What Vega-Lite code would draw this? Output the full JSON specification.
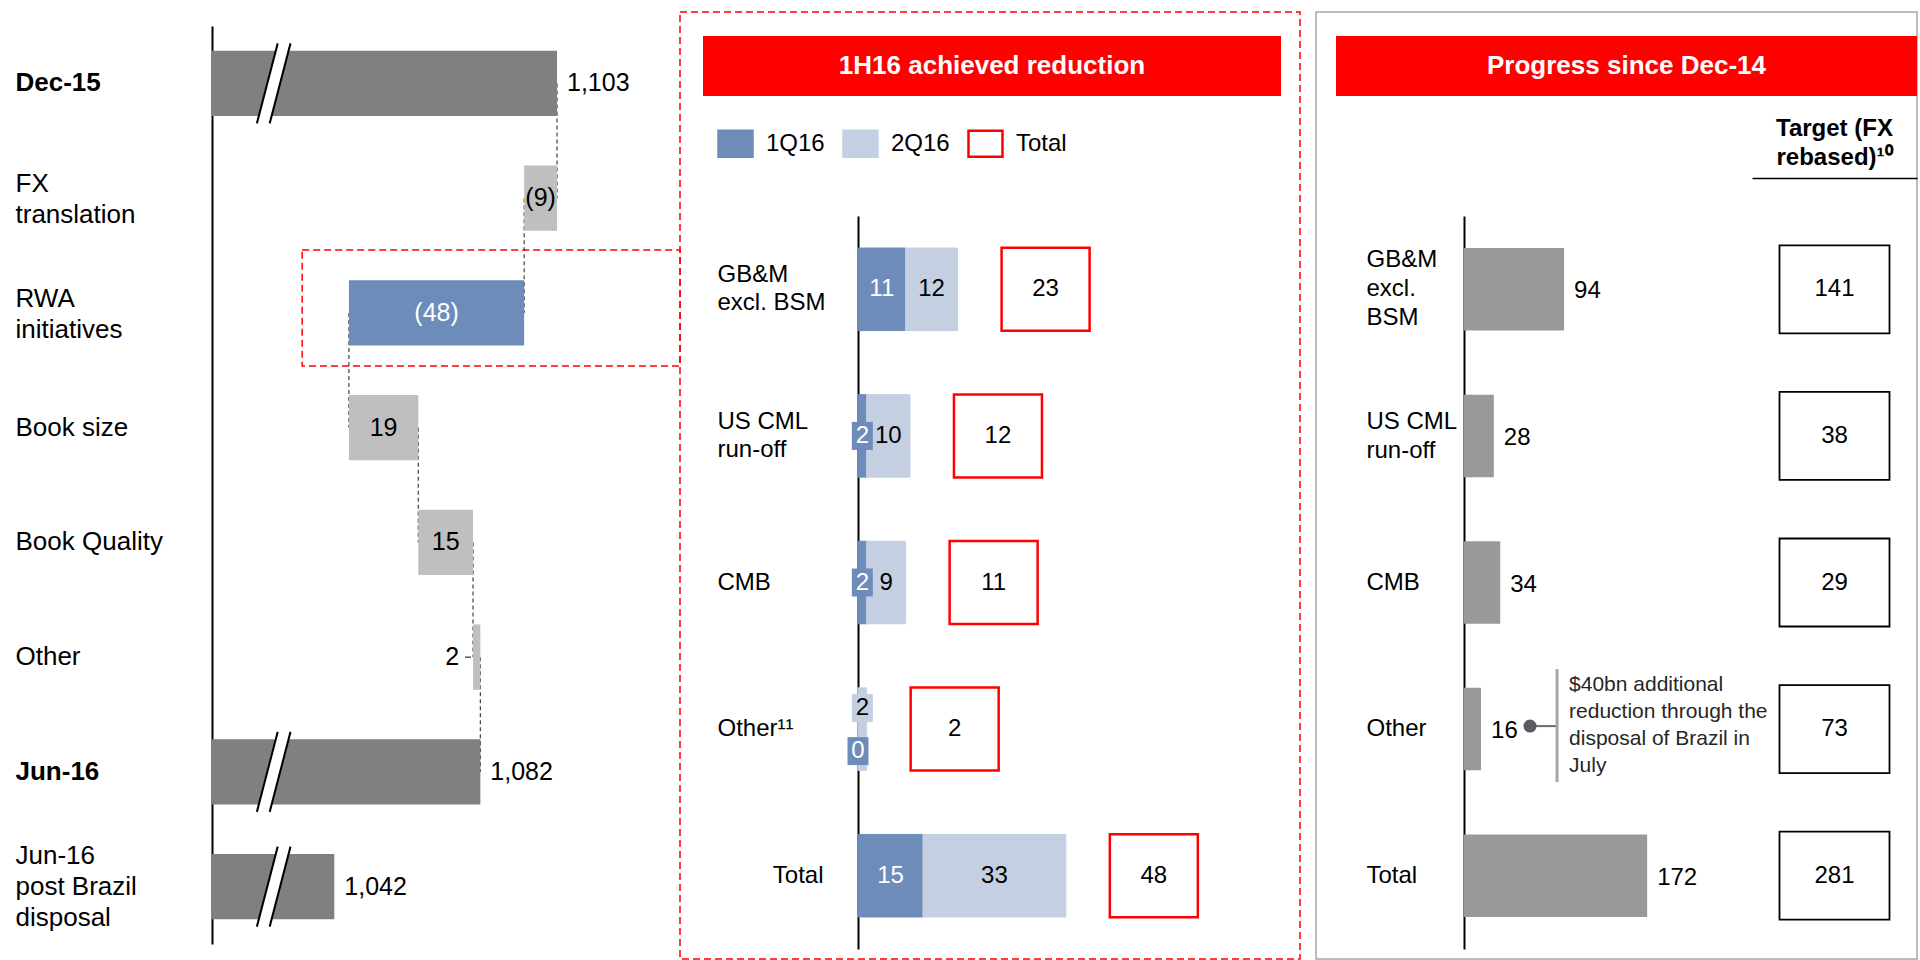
{
  "$schema": "https://vega.github.io/schema/vega-lite/v6.json",
  "background": "white",
  "padding": {"top": 11, "left": 0, "right": 0, "bottom": 0},
  "bounds": "flush",
  "spacing": 16,
  "config": {"font": "Liberation Sans", "view": {"stroke": null}},
  "resolve": {"scale": {"fill": "independent", "stroke": "independent"}, "legend": {"fill": "independent", "stroke": "independent"}},
  "datasets": {
    "wf_totals": [
      {"step": "Dec-15", "value": 1103},
      {"step": "Jun-16", "value": 1082},
      {"step": "Jun-16\npost Brazil\ndisposal", "value": 1042}
    ],
    "wf_changes": [
      {"step": "FX\ntranslation", "start": 1103, "end": 1094, "change": -9},
      {"step": "RWA\ninitiatives", "start": 1094, "end": 1046, "change": -48},
      {"step": "Book size", "start": 1046, "end": 1065, "change": 19},
      {"step": "Book Quality", "start": 1065, "end": 1080, "change": 15},
      {"step": "Other", "start": 1080, "end": 1082, "change": 2}
    ],
    "wf_links": [
      {"step": "Dec-15", "next": "FX\ntranslation", "level": 1103},
      {"step": "FX\ntranslation", "next": "RWA\ninitiatives", "level": 1094},
      {"step": "RWA\ninitiatives", "next": "Book size", "level": 1046},
      {"step": "Book size", "next": "Book Quality", "level": 1065},
      {"step": "Book Quality", "next": "Other", "level": 1080},
      {"step": "Other", "next": "Jun-16", "level": 1082}
    ],
    "quarters": [
      {"segment": "GB&M\nexcl. BSM", "series": "1Q16", "value": 11},
      {"segment": "GB&M\nexcl. BSM", "series": "2Q16", "value": 12},
      {"segment": "US CML\nrun-off", "series": "1Q16", "value": 2},
      {"segment": "US CML\nrun-off", "series": "2Q16", "value": 10},
      {"segment": "CMB", "series": "1Q16", "value": 2},
      {"segment": "CMB", "series": "2Q16", "value": 9},
      {"segment": "Other¹¹", "series": "1Q16", "value": 0},
      {"segment": "Other¹¹", "series": "2Q16", "value": 2},
      {"segment": "Total", "series": "1Q16", "value": 15},
      {"segment": "Total", "series": "2Q16", "value": 33}
    ],
    "totals_1h": [
      {"segment": "GB&M\nexcl. BSM", "series": "Total", "value": 23},
      {"segment": "US CML\nrun-off", "series": "Total", "value": 12},
      {"segment": "CMB", "series": "Total", "value": 11},
      {"segment": "Other¹¹", "series": "Total", "value": 2},
      {"segment": "Total", "series": "Total", "value": 48}
    ],
    "progress": [
      {"segment": "GB&M\nexcl.\nBSM", "value": 94},
      {"segment": "US CML\nrun-off", "value": 28},
      {"segment": "CMB", "value": 34},
      {"segment": "Other", "value": 16},
      {"segment": "Total", "value": 172}
    ],
    "targets": [
      {"segment": "GB&M\nexcl.\nBSM", "target": 141},
      {"segment": "US CML\nrun-off", "target": 38},
      {"segment": "CMB", "target": 29},
      {"segment": "Other", "target": 73},
      {"segment": "Total", "target": 281}
    ]
  },
  "hconcat": [
    {
      "width": 664,
      "height": 947,
      "encoding": {
        "y": {
          "field": "step", "type": "nominal", "sort": null,
          "scale": {"type": "band", "domain": ["Dec-15", "FX\ntranslation", "RWA\ninitiatives", "Book size", "Book Quality", "Other", "Jun-16", "Jun-16\npost Brazil\ndisposal"], "range": [14, 932], "paddingInner": 0.43, "paddingOuter": 0.215},
          "axis": {
            "orient": "left", "offset": -212, "title": null,
            "domain": true, "domainColor": "black", "domainWidth": 2,
            "ticks": false, "tickSize": 0,
            "labelAlign": "left", "labelBaseline": "middle", "labelPadding": 197,
            "labelFontSize": 26, "labelLineHeight": 31, "labelColor": "black", "labelLimit": 0,
            "labelExpr": "split(datum.label, '\\n')",
            "labelOffset": {"condition": [{"test": "length(split(datum.value, '\\n')) == 3", "value": -31}, {"test": "length(split(datum.value, '\\n')) == 2", "value": -14}], "value": 0},
            "labelFontWeight": {"condition": {"test": "datum.value === 'Dec-15' || datum.value === 'Jun-16'", "value": "bold"}, "value": "normal"}
          }
        }
      },
      "layer": [
        {
          "data": {"name": "wf_links"},
          "mark": {"type": "rule", "color": "#404040", "strokeWidth": 1.2, "strokeDash": [4, 3]},
          "encoding": {
            "x": {"field": "level", "type": "quantitative", "scale": {"domain": [1008.5, 1132.3], "range": [212, 664], "zero": false, "nice": false}, "axis": null},
            "y2": {"field": "next"}
          }
        },
        {
          "data": {"name": "wf_changes"},
          "transform": [{"filter": "datum.step === 'RWA\\ninitiatives'"}],
          "mark": {"type": "bar", "size": 116, "yOffset": -5, "fill": "transparent", "stroke": "#ff0000", "strokeWidth": 1.5, "strokeDash": [7, 4]},
          "encoding": {
            "x": {"datum": 1033.2, "type": "quantitative", "axis": null},
            "x2": {"datum": 1136.7}
          }
        },
        {
          "data": {"name": "wf_totals"},
          "mark": {"type": "bar", "color": "#808080"},
          "encoding": {
            "x": {"field": "value", "type": "quantitative", "axis": null},
            "x2": {"datum": 1008.5}
          }
        },
        {
          "data": {"name": "wf_changes"},
          "mark": {"type": "bar"},
          "encoding": {
            "x": {"field": "start", "type": "quantitative", "axis": null},
            "x2": {"field": "end"},
            "color": {"condition": {"test": "datum.step === 'RWA\\ninitiatives'", "value": "#6e8cb9"}, "value": "#bfbfbf"}
          }
        },
        {
          "data": {"name": "wf_totals"},
          "mark": {"type": "point", "shape": "M 0.1 -1 L 0.42 -1 L -0.1 1 L -0.42 1 Z", "size": 6400, "filled": true, "fill": "white", "strokeWidth": 0, "opacity": 1},
          "encoding": {"x": {"datum": 1025.4, "type": "quantitative", "axis": null}}
        },
        {
          "data": {"name": "wf_totals"},
          "mark": {"type": "point", "shape": "M 0.1 -1 L -0.42 1 M 0.42 -1 L -0.1 1", "size": 6400, "filled": false, "stroke": "black", "strokeWidth": 2, "opacity": 1},
          "encoding": {"x": {"datum": 1025.4, "type": "quantitative", "axis": null}}
        },
        {
          "data": {"name": "wf_totals"},
          "mark": {"type": "text", "align": "left", "baseline": "middle", "dx": 10, "fontSize": 25, "color": "black"},
          "encoding": {
            "x": {"field": "value", "type": "quantitative", "axis": null},
            "text": {"field": "value", "type": "quantitative", "format": ",d"}
          }
        },
        {
          "data": {"name": "wf_changes"},
          "transform": [{"filter": "datum.step !== 'Other'"}, {"fold": ["start", "end"], "as": ["edge", "pos"]}],
          "mark": {"type": "text", "align": "center", "baseline": "middle", "fontSize": 25},
          "encoding": {
            "x": {"aggregate": "mean", "field": "pos", "type": "quantitative", "axis": null},
            "text": {"field": "change", "type": "quantitative", "format": "(d"},
            "color": {"condition": {"test": "datum.step === 'RWA\\ninitiatives'", "value": "white"}, "value": "black"}
          }
        },
        {
          "data": {"name": "wf_changes"},
          "transform": [{"filter": "datum.step === 'Other'"}],
          "mark": {"type": "text", "align": "right", "baseline": "middle", "dx": -14, "fontSize": 25, "color": "black"},
          "encoding": {
            "x": {"field": "start", "type": "quantitative", "axis": null},
            "text": {"field": "change", "type": "quantitative", "format": "(d"}
          }
        },
        {
          "data": {"name": "wf_changes"},
          "transform": [{"filter": "datum.step === 'Other'"}],
          "mark": {"type": "rule", "color": "black", "strokeWidth": 1, "xOffset": -8, "x2Offset": -2},
          "encoding": {
            "x": {"field": "start", "type": "quantitative", "axis": null},
            "x2": {"field": "start"}
          }
        }
      ]
    },
    {
      "width": 620,
      "height": 947,
      "view": {"stroke": "#ff0000", "strokeWidth": 1.5, "strokeDash": [7, 4]},
      "resolve": {"scale": {"x": "independent", "y": "independent"}},
      "layer": [
        {
          "encoding": {
            "y": {
              "field": "segment", "type": "nominal", "sort": null,
              "scale": {"type": "band", "domain": ["GB&M\nexcl. BSM", "US CML\nrun-off", "CMB", "Other¹¹", "Total"], "range": [204, 937], "paddingInner": 0.437, "paddingOuter": 0.2185},
              "axis": {
                "orient": "left", "offset": -178, "title": null,
                "domain": true, "domainColor": "black", "domainWidth": 2,
                "ticks": false, "tickSize": 0,
                "labelBaseline": "middle",
                "labelAlign": {"condition": {"test": "datum.value === 'Total'", "value": "right"}, "value": "left"},
                "labelPadding": {"condition": {"test": "datum.value === 'Total'", "value": 35}, "value": 141},
                "labelOffset": {"condition": {"test": "length(split(datum.value, '\\n')) == 2", "value": -14}, "value": 0},
                "labelFontSize": 24, "labelLineHeight": 28, "labelColor": "black", "labelLimit": 0,
                "labelExpr": "split(datum.label, '\\n')"
              }
            }
          },
          "layer": [
            {
              "data": {"name": "quarters"},
              "transform": [{"stack": "value", "groupby": ["segment"], "sort": [{"field": "series", "order": "ascending"}], "as": ["x0", "x1"]}],
              "mark": {"type": "bar"},
              "encoding": {
                "x": {"field": "x0", "type": "quantitative", "scale": {"domain": [0, 100], "range": [178, 611], "zero": false, "nice": false}, "axis": null},
                "x2": {"field": "x1"},
                "fill": {
                  "field": "series", "type": "nominal",
                  "scale": {"domain": ["1Q16", "2Q16", "Total"], "range": ["#6e8cb9", "#c4cfe2", "#ffffff"]},
                  "legend": {"orient": "none", "legendX": 37, "legendY": 113, "direction": "horizontal", "title": null, "padding": 0,
                    "symbolType": "M -1 -0.765 L 1 -0.765 L 1 0.765 L -1 0.765 Z", "symbolSize": 1156, "symbolStrokeWidth": 2.5,
                    "labelFontSize": 24, "labelColor": "black", "labelOffset": 12, "columnPadding": 13}
                },
                "stroke": {
                  "field": "series", "type": "nominal",
                  "scale": {"domain": ["1Q16", "2Q16", "Total"], "range": ["#6e8cb9", "#c4cfe2", "#ff0000"]},
                  "legend": {"orient": "none", "legendX": 37, "legendY": 113, "direction": "horizontal", "title": null, "padding": 0,
                    "symbolType": "M -1 -0.765 L 1 -0.765 L 1 0.765 L -1 0.765 Z", "symbolSize": 1156, "symbolStrokeWidth": 2.5,
                    "labelFontSize": 24, "labelColor": "black", "labelOffset": 12, "columnPadding": 13}
                }
              }
            },
            {
              "data": {"name": "totals_1h"},
              "mark": {"type": "point", "shape": "M -1 -0.943 L 1 -0.943 L 1 0.943 L -1 0.943 Z", "size": 7744, "filled": true, "strokeWidth": 2.5, "opacity": 1, "xOffset": 88},
              "encoding": {
                "x": {"field": "value", "type": "quantitative", "axis": null},
                "fill": {"field": "series", "type": "nominal"},
                "stroke": {"field": "series", "type": "nominal"}
              }
            },
            {
              "data": {"name": "totals_1h"},
              "mark": {"type": "text", "align": "center", "baseline": "middle", "dx": 88, "fontSize": 24, "color": "black"},
              "encoding": {
                "x": {"field": "value", "type": "quantitative", "axis": null},
                "text": {"field": "value", "type": "quantitative"}
              }
            },
            {
              "data": {"name": "quarters"},
              "transform": [
                {"stack": "value", "groupby": ["segment"], "sort": [{"field": "series", "order": "ascending"}], "as": ["x0", "x1"]},
                {"filter": "datum.value > 2"},
                {"fold": ["x0", "x1"], "as": ["edge", "pos"]}
              ],
              "mark": {"type": "text", "align": "center", "baseline": "middle", "fontSize": 24},
              "encoding": {
                "x": {"aggregate": "mean", "field": "pos", "type": "quantitative", "axis": null},
                "text": {"field": "value", "type": "quantitative"},
                "detail": {"field": "series", "type": "nominal"},
                "color": {"condition": {"test": "datum.series === '1Q16'", "value": "white"}, "value": "black"}
              }
            },
            {
              "data": {"name": "quarters"},
              "transform": [
                {"stack": "value", "groupby": ["segment"], "sort": [{"field": "series", "order": "ascending"}], "as": ["x0", "x1"]},
                {"filter": "datum.value <= 2 && datum.segment !== 'Other¹¹'"},
                {"fold": ["x0", "x1"], "as": ["edge", "pos"]}
              ],
              "mark": {"type": "point", "shape": "M -0.75 -1 L 0.75 -1 L 0.75 1 L -0.75 1 Z", "size": 784, "filled": true, "strokeWidth": 0, "opacity": 1},
              "encoding": {
                "x": {"aggregate": "mean", "field": "pos", "type": "quantitative", "axis": null},
                "fill": {"field": "series", "type": "nominal"}
              }
            },
            {
              "data": {"name": "quarters"},
              "transform": [
                {"stack": "value", "groupby": ["segment"], "sort": [{"field": "series", "order": "ascending"}], "as": ["x0", "x1"]},
                {"filter": "datum.value <= 2 && datum.segment !== 'Other¹¹'"},
                {"fold": ["x0", "x1"], "as": ["edge", "pos"]}
              ],
              "mark": {"type": "text", "align": "center", "baseline": "middle", "fontSize": 24},
              "encoding": {
                "x": {"aggregate": "mean", "field": "pos", "type": "quantitative", "axis": null},
                "text": {"field": "value", "type": "quantitative"},
                "detail": {"field": "series", "type": "nominal"},
                "color": {"condition": {"test": "datum.series === '1Q16'", "value": "white"}, "value": "black"}
              }
            },
            {
              "data": {"name": "quarters"},
              "transform": [
                {"stack": "value", "groupby": ["segment"], "sort": [{"field": "series", "order": "ascending"}], "as": ["x0", "x1"]},
                {"filter": "datum.segment === 'Other¹¹' && datum.series === '2Q16'"},
                {"fold": ["x0", "x1"], "as": ["edge", "pos"]}
              ],
              "mark": {"type": "point", "shape": "M -0.75 -1 L 0.75 -1 L 0.75 1 L -0.75 1 Z", "size": 784, "filled": true, "strokeWidth": 0, "opacity": 1, "yOffset": -21},
              "encoding": {
                "x": {"aggregate": "mean", "field": "pos", "type": "quantitative", "axis": null},
                "fill": {"field": "series", "type": "nominal"}
              }
            },
            {
              "data": {"name": "quarters"},
              "transform": [
                {"stack": "value", "groupby": ["segment"], "sort": [{"field": "series", "order": "ascending"}], "as": ["x0", "x1"]},
                {"filter": "datum.segment === 'Other¹¹' && datum.series === '2Q16'"},
                {"fold": ["x0", "x1"], "as": ["edge", "pos"]}
              ],
              "mark": {"type": "text", "align": "center", "baseline": "middle", "fontSize": 24, "dy": -21, "color": "black"},
              "encoding": {
                "x": {"aggregate": "mean", "field": "pos", "type": "quantitative", "axis": null},
                "text": {"field": "value", "type": "quantitative"}
              }
            },
            {
              "data": {"name": "quarters"},
              "transform": [
                {"stack": "value", "groupby": ["segment"], "sort": [{"field": "series", "order": "ascending"}], "as": ["x0", "x1"]},
                {"filter": "datum.segment === 'Other¹¹' && datum.series === '1Q16'"},
                {"fold": ["x0", "x1"], "as": ["edge", "pos"]}
              ],
              "mark": {"type": "point", "shape": "M -0.75 -1 L 0.75 -1 L 0.75 1 L -0.75 1 Z", "size": 784, "filled": true, "strokeWidth": 0, "opacity": 1, "yOffset": 22},
              "encoding": {
                "x": {"aggregate": "mean", "field": "pos", "type": "quantitative", "axis": null},
                "fill": {"field": "series", "type": "nominal"}
              }
            },
            {
              "data": {"name": "quarters"},
              "transform": [
                {"stack": "value", "groupby": ["segment"], "sort": [{"field": "series", "order": "ascending"}], "as": ["x0", "x1"]},
                {"filter": "datum.segment === 'Other¹¹' && datum.series === '1Q16'"},
                {"fold": ["x0", "x1"], "as": ["edge", "pos"]}
              ],
              "mark": {"type": "text", "align": "center", "baseline": "middle", "fontSize": 24, "dy": 22, "color": "white"},
              "encoding": {
                "x": {"aggregate": "mean", "field": "pos", "type": "quantitative", "axis": null},
                "text": {"field": "value", "type": "quantitative"}
              }
            }
          ]
        },
        {
          "data": {"values": [{"title": "1H16 achieved reduction"}]},
          "encoding": {
            "x": {"field": "title", "type": "nominal", "scale": {"type": "band", "range": [23, 601], "paddingInner": 0, "paddingOuter": 0}, "axis": null},
            "y": {"field": "title", "type": "nominal", "scale": {"type": "band", "range": [24, 84], "paddingInner": 0, "paddingOuter": 0}, "axis": null}
          },
          "layer": [
            {"mark": {"type": "rect", "color": "#ff0000"}},
            {"mark": {"type": "text", "color": "white", "fontSize": 26, "fontWeight": "bold", "align": "center", "baseline": "middle"}, "encoding": {"text": {"field": "title"}}}
          ]
        }
      ]
    },
    {
      "width": 601,
      "height": 947,
      "view": {"stroke": "#a6a6a6", "strokeWidth": 1.5},
      "resolve": {"scale": {"x": "independent", "y": "independent"}},
      "layer": [
        {
          "data": {"name": "progress"},
          "encoding": {
            "y": {
              "field": "segment", "type": "nominal", "sort": null,
              "scale": {"type": "band", "domain": ["GB&M\nexcl.\nBSM", "US CML\nrun-off", "CMB", "Other", "Total"], "range": [204, 937], "paddingInner": 0.437, "paddingOuter": 0.2185},
              "axis": {
                "orient": "left", "offset": -148, "title": null,
                "domain": true, "domainColor": "black", "domainWidth": 2,
                "ticks": false, "tickSize": 0,
                "labelAlign": "left", "labelBaseline": "middle", "labelPadding": 98,
                "labelOffset": {"condition": [{"test": "length(split(datum.value, '\\n')) == 3", "value": -29}, {"test": "length(split(datum.value, '\\n')) == 2", "value": -14}], "value": 0},
                "labelFontSize": 24, "labelLineHeight": 29, "labelColor": "black", "labelLimit": 0,
                "labelExpr": "split(datum.label, '\\n')"
              }
            }
          },
          "layer": [
            {
              "mark": {"type": "bar", "color": "#999999"},
              "encoding": {"x": {"field": "value", "type": "quantitative", "scale": {"domain": [0, 425.4], "range": [148, 601], "nice": false}, "axis": null}}
            },
            {
              "mark": {"type": "text", "align": "left", "baseline": "middle", "dx": 10, "dy": 2, "fontSize": 24, "color": "black"},
              "encoding": {
                "x": {"field": "value", "type": "quantitative", "axis": null},
                "text": {"field": "value", "type": "quantitative"}
              }
            },
            {
              "transform": [{"filter": "datum.segment === 'Other'"}],
              "mark": {"type": "rule", "color": "#6b6b6b", "strokeWidth": 2, "xOffset": 49, "x2Offset": 76, "yOffset": -3},
              "encoding": {
                "x": {"field": "value", "type": "quantitative", "axis": null},
                "x2": {"field": "value"}
              }
            },
            {
              "transform": [{"filter": "datum.segment === 'Other'"}],
              "mark": {"type": "point", "shape": "circle", "filled": true, "size": 170, "color": "#5b5b63", "opacity": 1, "xOffset": 49, "yOffset": -3},
              "encoding": {"x": {"field": "value", "type": "quantitative", "axis": null}}
            },
            {
              "transform": [{"filter": "datum.segment === 'Other'"}],
              "mark": {"type": "rule", "color": "#a6a6a6", "strokeWidth": 3, "xOffset": 76, "yOffset": -60, "y2Offset": 53},
              "encoding": {
                "x": {"field": "value", "type": "quantitative", "axis": null},
                "y2": {"field": "segment"}
              }
            },
            {
              "transform": [{"filter": "datum.segment === 'Other'"}],
              "mark": {"type": "text", "align": "left", "baseline": "middle", "dx": 88, "dy": -44, "fontSize": 21, "lineHeight": 27, "color": "#262626"},
              "encoding": {
                "x": {"field": "value", "type": "quantitative", "axis": null},
                "text": {"value": ["$40bn additional", "reduction through the", "disposal of Brazil in", "July"]}
              }
            }
          ]
        },
        {
          "data": {"name": "targets"},
          "encoding": {
            "y": {
              "field": "segment", "type": "nominal", "sort": null,
              "scale": {"type": "band", "domain": ["GB&M\nexcl.\nBSM", "US CML\nrun-off", "CMB", "Other", "Total"], "range": [204, 937], "paddingInner": 0.437, "paddingOuter": 0.2185},
              "axis": null
            },
            "x": {
              "datum": "Target (FX\nrebased)¹⁰", "type": "nominal",
              "scale": {"type": "band", "range": [436, 601], "paddingInner": 0, "paddingOuter": 0},
              "axis": {
                "orient": "top", "offset": -166, "title": null,
                "domain": true, "domainColor": "black", "domainWidth": 1.5,
                "ticks": false, "tickSize": 0,
                "labelAngle": 0,
                "labelAlign": "center", "labelBaseline": "bottom", "labelPadding": 38,
                "labelFontSize": 24, "labelFontWeight": "bold", "labelLineHeight": 29, "labelColor": "black", "labelLimit": 0,
                "labelExpr": "split(datum.label, '\\n')"
              }
            }
          },
          "layer": [
            {"mark": {"type": "point", "shape": "M -1 -0.8 L 1 -0.8 L 1 0.8 L -1 0.8 Z", "size": 12100, "filled": true, "fill": "white", "stroke": "black", "strokeWidth": 1.8, "opacity": 1}},
            {"mark": {"type": "text", "fontSize": 24, "color": "black", "align": "center", "baseline": "middle"}, "encoding": {"text": {"field": "target", "type": "quantitative"}}}
          ]
        },
        {
          "data": {"values": [{"title": "Progress since Dec-14"}]},
          "encoding": {
            "x": {"field": "title", "type": "nominal", "scale": {"type": "band", "range": [20, 601], "paddingInner": 0, "paddingOuter": 0}, "axis": null},
            "y": {"field": "title", "type": "nominal", "scale": {"type": "band", "range": [24, 84], "paddingInner": 0, "paddingOuter": 0}, "axis": null}
          },
          "layer": [
            {"mark": {"type": "rect", "color": "#ff0000"}},
            {"mark": {"type": "text", "color": "white", "fontSize": 26, "fontWeight": "bold", "align": "center", "baseline": "middle"}, "encoding": {"text": {"field": "title"}}}
          ]
        }
      ]
    }
  ]
}
